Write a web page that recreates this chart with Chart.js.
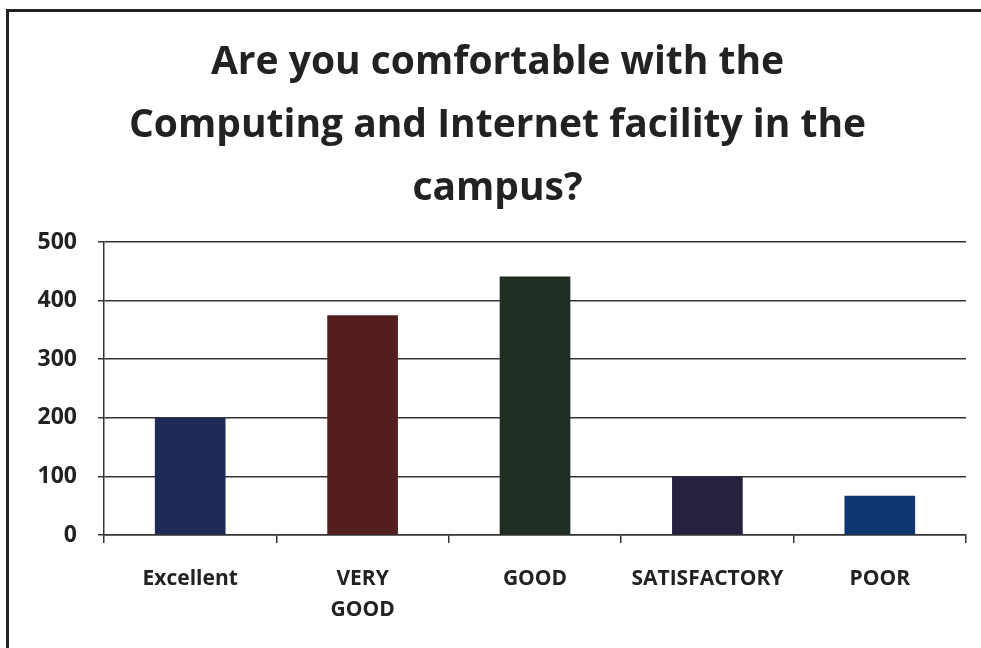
<!DOCTYPE html>
<html>
<head>
<meta charset="utf-8">
<script src="https://cdn.jsdelivr.net/npm/chart.js"></script>
<style>
  html, body { margin: 0; background: #fff; overflow: hidden; }
  #box { position: absolute; left: 0; top: 0; width: 981px; height: 648px; }
</style>
</head>
<body>
<div id="box"><canvas id="myChart"></canvas></div>

<script>
// Setup
const titleLines = ['Are you comfortable with the', 'Computing and Internet facility in the', 'campus?'];
const labels = ['Excellent', ['VERY', 'GOOD'], 'GOOD', 'SATISFACTORY', 'POOR'];
const values = [200, 375, 441, 100, 67];
const barColors = ['#1f2b56', '#521f1e', '#1f2e22', '#24223f', '#0e3670'];
const yTicks = [0, 100, 200, 300, 400, 500];

const font = "'Open Sans', Lato, sans-serif";

// frame round the picture (left and top edges only are in view)
const framePlugin = {
  id: 'frame',
  beforeDraw: function(chart) {
    const c = chart.ctx;
    c.save();
    c.fillStyle = '#fff';
    c.fillRect(0, 0, chart.width, chart.height);
    c.strokeStyle = '#222';
    c.lineWidth = 3;
    c.beginPath();
    c.moveTo(7.5, chart.height);
    c.lineTo(7.5, 10.5);
    c.lineTo(chart.width, 10.5);
    c.stroke();
    c.restore();
  }
};

const data = {
  labels: labels,
  datasets: [{
    data: values,
    backgroundColor: barColors,
    borderWidth: 0,
    barPercentage: 0.41,
    categoryPercentage: 1
  }]
};

// Config
const config = {
  type: 'bar',
  data: data,
  plugins: [framePlugin],
  options: {
    responsive: true,
    maintainAspectRatio: false,
    animation: false,
    layout: { padding: { left: 29, right: 15, top: 12, bottom: 0 } },
    plugins: {
      legend: { display: false },
      tooltip: { enabled: false },
      title: {
        display: true,
        text: titleLines,
        color: '#222',
        font: { family: font, size: 39, weight: 'bold', lineHeight: 1.615 },
        padding: { top: 19, bottom: 22 }
      }
    },
    scales: {
      x: {
        grid: { drawOnChartArea: false, drawTicks: true, tickLength: 8, color: '#333', lineWidth: 1.5 },
        border: { color: '#333', width: 1.5 },
        ticks: { color: '#222', font: { family: font, size: 21, weight: 'bold', lineHeight: 1.5 }, padding: 20, maxRotation: 0 },
        afterFit: function(s) { s.height = 113; }
      },
      y: {
        min: 0, max: 500,
        afterBuildTicks: function(s) { s.ticks = yTicks.map(function(v) { return { value: v }; }); },
        grid: { color: '#333', lineWidth: 1.5, tickLength: 6 },
        border: { color: '#333', width: 1.5 },
        ticks: { color: '#222', font: { family: font, size: 23, weight: 'bold' }, padding: 21 },
        afterFit: function(s) { s.width = 75; }
      }
    }
  }
};

// Creacion
var myChart = new Chart(document.getElementById('myChart'), config);
</script>
</body>
</html>
